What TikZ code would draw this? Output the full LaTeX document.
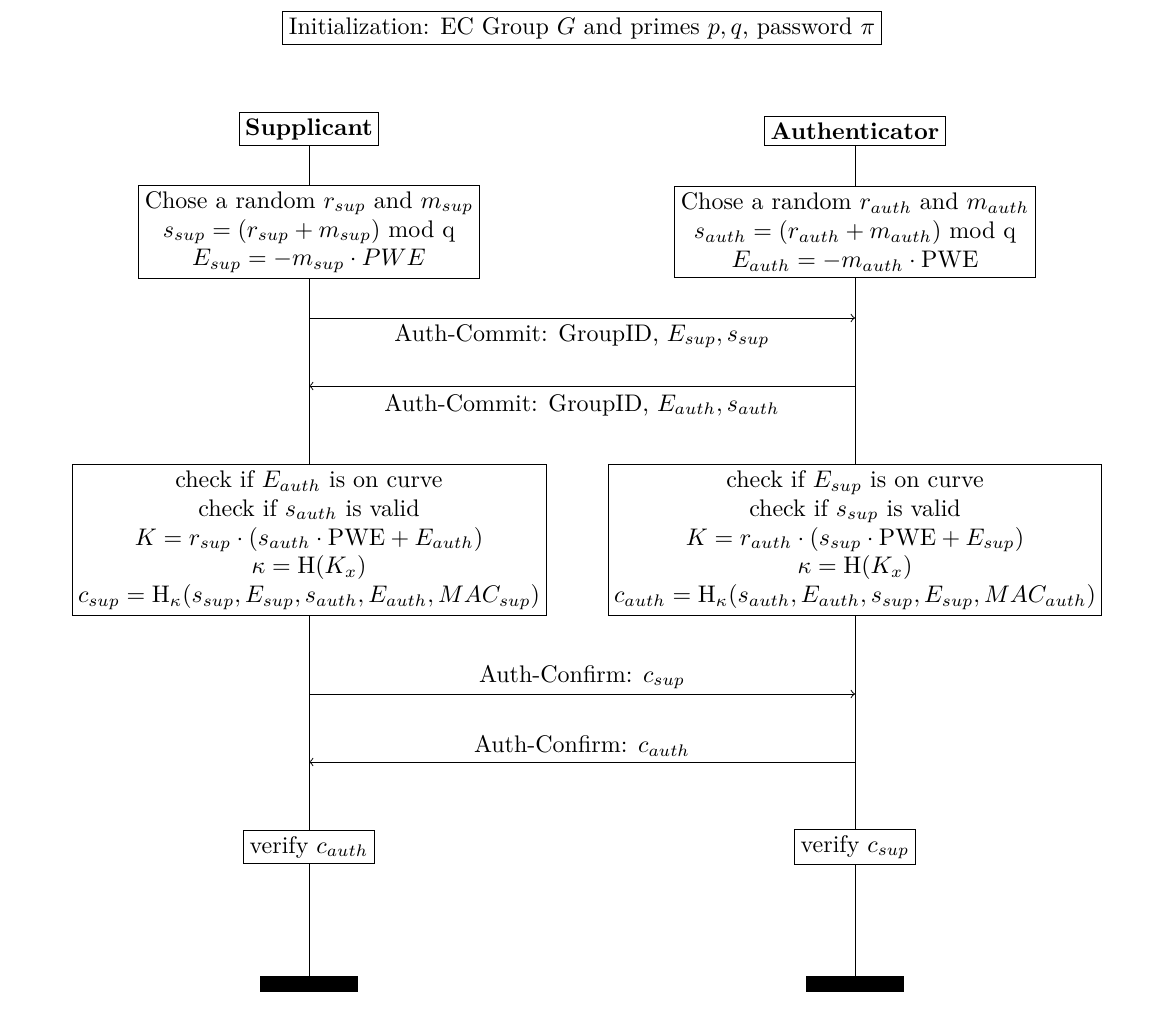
\documentclass[tikz,border=0pt]{standalone}
\usetikzlibrary{backgrounds}
\begin{document}
\begin{tikzpicture}[x=0.4167pt,y=-0.4167pt,
  box/.style={draw,fill=white,align=center,inner sep=2.5pt},
  msg/.style={->,>=to},
  lbl/.style={inner sep=1pt},
  bar/.style={fill=black,minimum width=40.8pt,minimum height=6.3pt,inner sep=0pt}]
\useasboundingbox (0,0) rectangle (1170,1021);
\node[box] (init) at (582,28) {Initialization: EC Group $G$ and primes $p,q$, password $\pi$};
\node[box] (sup) at (309,129) {\textbf{Supplicant}};
\node[box] (auth) at (855,131) {\textbf{Authenticator}};
\node[box] (s1) at (309,232) {Chose a random $r_{sup}$ and $m_{sup}$\\ $s_{sup}=(r_{sup}+m_{sup})$ mod q\\ $E_{sup}=-m_{sup}\cdot PWE$};
\node[box] (a1) at (855,232) {Chose a random $r_{auth}$ and $m_{auth}$\\ $s_{auth}=(r_{auth}+m_{auth})$ mod q\\ $E_{auth}=-m_{auth}\cdot \mathrm{PWE}$};
\node[box] (s2) at (309,540) {check if $E_{auth}$ is on curve\\ check if $s_{auth}$ is valid\\ $K=r_{sup}\cdot(s_{auth}\cdot\mathrm{PWE}+E_{auth})$\\ $\kappa=\mathrm{H}(K_x)$\\ $c_{sup}=\mathrm{H}_\kappa(s_{sup},E_{sup},s_{auth},E_{auth},MAC_{sup})$};
\node[box] (a2) at (855,540) {check if $E_{sup}$ is on curve\\ check if $s_{sup}$ is valid\\ $K=r_{auth}\cdot(s_{sup}\cdot\mathrm{PWE}+E_{sup})$\\ $\kappa=\mathrm{H}(K_x)$\\ $c_{auth}=\mathrm{H}_\kappa(s_{auth},E_{auth},s_{sup},E_{sup},MAC_{auth})$};
\node[box] (s3) at (309,847) {verify $c_{auth}$};
\node[box] (a3) at (855,847) {verify $c_{sup}$};
\node[bar] (sb) at (309,984) {};
\node[bar] (ab) at (855,984) {};
\begin{pgfonlayer}{background}
\draw (sup.south) -- (sb.north);
\draw (auth.south) -- (ab.north);
\end{pgfonlayer}
\coordinate (m1s) at (309,318); \coordinate (m1a) at (855,318);
\coordinate (m2s) at (309,386); \coordinate (m2a) at (855,386);
\coordinate (m3s) at (309,694); \coordinate (m3a) at (855,694);
\coordinate (m4s) at (309,762); \coordinate (m4a) at (855,762);
\draw[msg] (m1s) -- (m1a);
\draw[msg] (m2a) -- (m2s);
\draw[msg] (m3s) -- (m3a);
\draw[msg] (m4a) -- (m4s);
\node[lbl] (l1) at (582,336) {Auth-Commit: GroupID, $E_{sup},s_{sup}$};
\node[lbl] (l2) at (582,405) {Auth-Commit: GroupID, $E_{auth},s_{auth}$};
\node[lbl] (l3) at (582,677) {Auth-Confirm: $c_{sup}$};
\node[lbl] (l4) at (582,746) {Auth-Confirm: $c_{auth}$};
\end{tikzpicture}
\end{document}
